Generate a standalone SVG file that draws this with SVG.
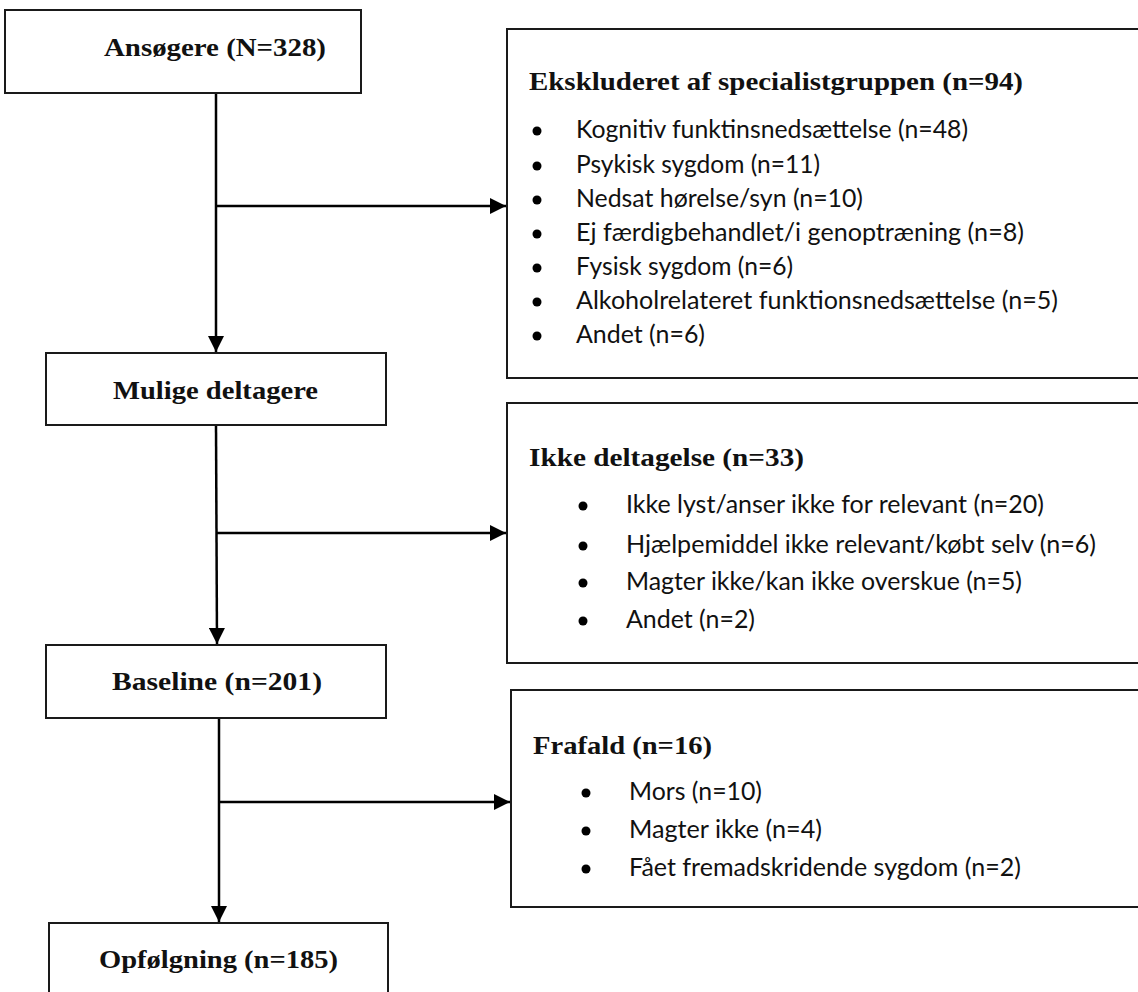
<svg xmlns="http://www.w3.org/2000/svg" width="1138" height="992" viewBox="0 0 1138 992">
<style>
.box{fill:#fff;stroke:#1a1a1a;stroke-width:2}
.ttl{font-family:"Liberation Serif","DejaVu Serif",serif;font-weight:bold;font-size:25px;fill:#111}
.txt{font-family:Lato,"Liberation Sans",sans-serif;font-size:24.5px;fill:#111}
.con{fill:none;stroke:#000;stroke-width:2.5}
.dot{fill:#000}
</style>
<defs>
<marker id="ah" markerUnits="userSpaceOnUse" markerWidth="16" markerHeight="16" refX="16" refY="8" orient="auto">
<path d="M0,0 L16,8 L0,16 Z" fill="#000"/>
</marker>
</defs>
<rect width="1138" height="992" fill="#fff"/>
<g id="connectors">
<line class="con" x1="216" y1="93" x2="216" y2="352" marker-end="url(#ah)"/>
<line class="con" x1="216" y1="206" x2="506" y2="206" marker-end="url(#ah)"/>
<line class="con" x1="216" y1="425" x2="217" y2="644" marker-end="url(#ah)"/>
<line class="con" x1="216" y1="533" x2="506" y2="533" marker-end="url(#ah)"/>
<line class="con" x1="219" y1="718" x2="219" y2="922" marker-end="url(#ah)"/>
<line class="con" x1="219" y1="802" x2="510" y2="802" marker-end="url(#ah)"/>
</g>
<g id="ansogere">
<rect class="box" x="5" y="10" width="356" height="83"/>
<text class="ttl" x="104" y="56" textLength="222" lengthAdjust="spacingAndGlyphs">Ansøgere (N=328)</text>
</g>
<g id="mulige">
<rect class="box" x="46" y="353" width="340" height="72"/>
<text class="ttl" x="113" y="399" textLength="205" lengthAdjust="spacingAndGlyphs">Mulige deltagere</text>
</g>
<g id="baseline">
<rect class="box" x="46" y="645" width="340" height="73"/>
<text class="ttl" x="112" y="690" textLength="210" lengthAdjust="spacingAndGlyphs">Baseline (n=201)</text>
</g>
<g id="opfolgning">
<rect class="box" x="49" y="923" width="339" height="90"/>
<text class="ttl" x="99" y="968" textLength="239" lengthAdjust="spacingAndGlyphs">Opfølgning (n=185)</text>
</g>
<g id="ekskluderet">
<rect class="box" x="507" y="29" width="640" height="349"/>
<text class="ttl" x="529" y="90" textLength="494" lengthAdjust="spacingAndGlyphs">Ekskluderet af specialistgruppen (n=94)</text>
<circle class="dot" cx="537" cy="131" r="4.5"/>
<text class="txt" x="576" y="138" textLength="392" lengthAdjust="spacingAndGlyphs">Kognitiv funktinsnedsættelse (n=48)</text>
<circle class="dot" cx="537" cy="166" r="4.5"/>
<text class="txt" x="576" y="173" textLength="244" lengthAdjust="spacingAndGlyphs">Psykisk sygdom (n=11)</text>
<circle class="dot" cx="537" cy="200" r="4.5"/>
<text class="txt" x="576" y="207" textLength="287" lengthAdjust="spacingAndGlyphs">Nedsat hørelse/syn (n=10)</text>
<circle class="dot" cx="537" cy="234" r="4.5"/>
<text class="txt" x="576" y="241" textLength="448" lengthAdjust="spacingAndGlyphs">Ej færdigbehandlet/i genoptræning (n=8)</text>
<circle class="dot" cx="537" cy="268" r="4.5"/>
<text class="txt" x="576" y="275" textLength="217" lengthAdjust="spacingAndGlyphs">Fysisk sygdom (n=6)</text>
<circle class="dot" cx="537" cy="302" r="4.5"/>
<text class="txt" x="576" y="309" textLength="482" lengthAdjust="spacingAndGlyphs">Alkoholrelateret funktionsnedsættelse (n=5)</text>
<circle class="dot" cx="537" cy="336" r="4.5"/>
<text class="txt" x="576" y="343" textLength="129" lengthAdjust="spacingAndGlyphs">Andet (n=6)</text>
</g>
<g id="ikke-deltagelse">
<rect class="box" x="507" y="403" width="640" height="260"/>
<text class="ttl" x="529" y="466" textLength="275" lengthAdjust="spacingAndGlyphs">Ikke deltagelse (n=33)</text>
<circle class="dot" cx="583" cy="506" r="4.5"/>
<text class="txt" x="626" y="513" textLength="418" lengthAdjust="spacingAndGlyphs">Ikke lyst/anser ikke for relevant (n=20)</text>
<circle class="dot" cx="583" cy="546" r="4.5"/>
<text class="txt" x="626" y="553" textLength="470" lengthAdjust="spacingAndGlyphs">Hjælpemiddel ikke relevant/købt selv (n=6)</text>
<circle class="dot" cx="583" cy="583" r="4.5"/>
<text class="txt" x="626" y="590" textLength="396" lengthAdjust="spacingAndGlyphs">Magter ikke/kan ikke overskue (n=5)</text>
<circle class="dot" cx="583" cy="621" r="4.5"/>
<text class="txt" x="626" y="628" textLength="129" lengthAdjust="spacingAndGlyphs">Andet (n=2)</text>
</g>
<g id="frafald">
<rect class="box" x="511" y="690" width="640" height="217"/>
<text class="ttl" x="533" y="754" textLength="179" lengthAdjust="spacingAndGlyphs">Frafald (n=16)</text>
<circle class="dot" cx="586" cy="793" r="4.5"/>
<text class="txt" x="629" y="800" textLength="133" lengthAdjust="spacingAndGlyphs">Mors (n=10)</text>
<circle class="dot" cx="586" cy="831" r="4.5"/>
<text class="txt" x="629" y="838" textLength="193" lengthAdjust="spacingAndGlyphs">Magter ikke (n=4)</text>
<circle class="dot" cx="586" cy="869" r="4.5"/>
<text class="txt" x="629" y="876" textLength="392" lengthAdjust="spacingAndGlyphs">Fået fremadskridende sygdom (n=2)</text>
</g>
</svg>
